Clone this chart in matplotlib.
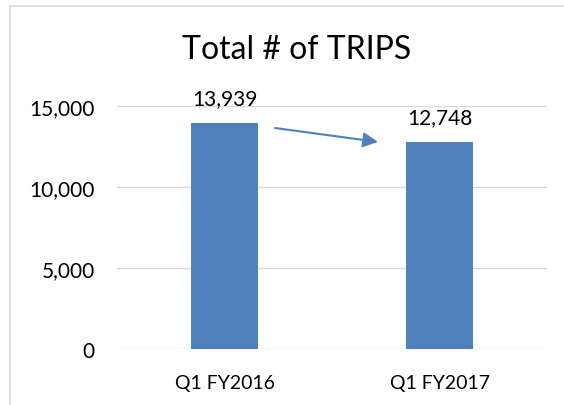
import matplotlib
matplotlib.use("Agg")
import matplotlib.pyplot as plt
from matplotlib.lines import Line2D
from matplotlib.ticker import FuncFormatter

plt.rcParams['font.family'] = ['Lato', 'DejaVu Sans']

quarters = ['Q1 FY2016', 'Q1 FY2017']
trips = [13939, 12748]
bar_color = '#4F81BD'
grid_color = '#D9D9D9'

fig = plt.figure(figsize=(5.64, 4.06), dpi=100)
ax = fig.add_axes([0.2074, 0.138, 0.7626, 0.5985])

x = range(len(quarters))
bars = ax.bar(x, trips, width=0.314, color=bar_color, zorder=3)
for b, v in zip(bars, trips):
    ax.text(b.get_x() + b.get_width() / 2, v + 1170, f'{v:,}',
            ha='center', va='baseline', fontsize=15, color='#000000')

# arrow showing the drop
ax.annotate('', xy=(0.714, 12780), xytext=(0.235, 13640),
            arrowprops=dict(arrowstyle='-|>,head_length=0.9,head_width=0.45',
                            color=bar_color, lw=1.5, shrinkA=0, shrinkB=0),
            zorder=4)

ax.set_xlim(-0.5, 1.5)
ax.set_ylim(0, 15000)
ax.set_yticks([0, 5000, 10000, 15000])
ax.yaxis.set_major_formatter(FuncFormatter(lambda v, p: f'{int(v):,}'))
ax.set_xticks(list(x))
ax.set_xticklabels(quarters)
ax.tick_params(axis='both', length=0, colors='#000000')
ax.tick_params(axis='y', pad=16, labelsize=15)
ax.tick_params(axis='x', pad=18, labelsize=14)
ax.grid(axis='y', color=grid_color, lw=1, zorder=0)
for s in ax.spines.values():
    s.set_visible(False)

fig.text(297 / 564, 1 - 50 / 406, 'Total # of TRIPS', ha='center', va='center',
         fontsize=23, color='#000000')

# chart border
fig.add_artist(Line2D([10 / 564, 10 / 564], [0, 1 - 7 / 406], transform=fig.transFigure,
                      color=grid_color, lw=1.2))
fig.add_artist(Line2D([10 / 564, 1], [1 - 7 / 406, 1 - 7 / 406], transform=fig.transFigure,
                      color=grid_color, lw=1.2))

fig.savefig('out.png', dpi=100)
